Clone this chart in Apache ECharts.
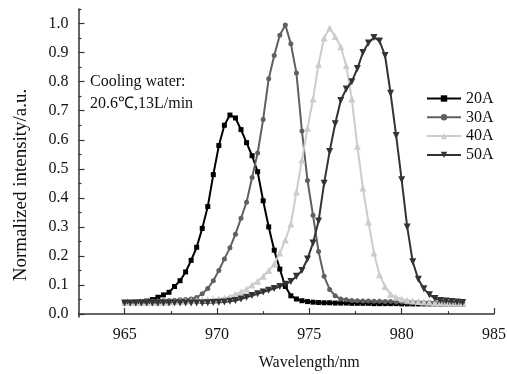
<!DOCTYPE html>
<html>
<head>
<meta charset="utf-8">
<script src="https://cdn.jsdelivr.net/npm/echarts@6/dist/echarts.min.js"></script>
<style>
  html, body { margin: 0; padding: 0; background: #fff; }
  #chart { width: 507px; height: 374px; }
</style>
</head>
<body>
<div id="chart"></div>
<script>
// wavelength samples (nm), shared by all four spectra
const wavelengths = [
  965.0, 965.3, 965.6, 965.9, 966.2, 966.5, 966.8, 967.1, 967.4, 967.7,
  968.0, 968.3, 968.6, 968.9, 969.2, 969.5, 969.8, 970.1, 970.4, 970.7,
  971.0, 971.3, 971.6, 971.9, 972.2, 972.5, 972.8, 973.1, 973.4, 973.7,
  974.0, 974.3, 974.6, 974.9, 975.2, 975.5, 975.8, 976.1, 976.4, 976.7,
  977.0, 977.3, 977.6, 977.9, 978.2, 978.5, 978.8, 979.1, 979.4, 979.7,
  980.0, 980.3, 980.6, 980.9, 981.2, 981.5, 981.8, 982.1, 982.4, 982.7,
  983.0, 983.3
];

const intensity20A = [
  0.040, 0.040, 0.041, 0.042, 0.045, 0.050, 0.058, 0.066, 0.075, 0.095,
  0.115, 0.145, 0.185, 0.230, 0.295, 0.370, 0.480, 0.580, 0.650, 0.685,
  0.675, 0.635, 0.590, 0.545, 0.490, 0.390, 0.300, 0.220, 0.155, 0.095,
  0.063, 0.052, 0.046, 0.043, 0.041, 0.040, 0.039, 0.039, 0.038, 0.038,
  0.038, 0.037, 0.037, 0.037, 0.037, 0.036, 0.036, 0.036, 0.036, 0.036,
  0.035, 0.035, 0.035, 0.035, 0.035, 0.035, 0.035, 0.035, 0.035, 0.035,
  0.035, 0.035
];

const intensity30A = [
  0.040, 0.040, 0.041, 0.042, 0.043, 0.044, 0.045, 0.046, 0.047, 0.048,
  0.049, 0.050, 0.052, 0.057, 0.070, 0.088, 0.115, 0.150, 0.190, 0.228,
  0.275, 0.330, 0.385, 0.470, 0.554, 0.670, 0.810, 0.890, 0.960, 0.995,
  0.930, 0.830, 0.630, 0.460, 0.340, 0.215, 0.130, 0.085, 0.063, 0.052,
  0.049, 0.047, 0.046, 0.045, 0.045, 0.044, 0.044, 0.043, 0.043, 0.042,
  0.042, 0.041, 0.041, 0.040, 0.040, 0.040, 0.039, 0.039, 0.039, 0.038,
  0.038, 0.038
];

const intensity40A = [
  0.040, 0.040, 0.040, 0.040, 0.040, 0.040, 0.040, 0.041, 0.042, 0.043,
  0.044, 0.045, 0.046, 0.048, 0.049, 0.050, 0.051, 0.053, 0.055, 0.060,
  0.068, 0.076, 0.086, 0.100, 0.113, 0.130, 0.150, 0.172, 0.210, 0.255,
  0.310, 0.420, 0.530, 0.640, 0.740, 0.860, 0.950, 0.985, 0.955, 0.920,
  0.855, 0.740, 0.578, 0.434, 0.317, 0.210, 0.135, 0.095, 0.068, 0.058,
  0.052, 0.048, 0.045, 0.043, 0.042, 0.041, 0.040, 0.040, 0.039, 0.039,
  0.038, 0.038
];

const intensity50A = [
  0.038, 0.038, 0.038, 0.038, 0.038, 0.038, 0.038, 0.038, 0.038, 0.038,
  0.038, 0.038, 0.038, 0.038, 0.038, 0.039, 0.040, 0.041, 0.042, 0.044,
  0.047, 0.052, 0.058, 0.064, 0.070, 0.076, 0.082, 0.088, 0.095, 0.103,
  0.112, 0.130, 0.150, 0.190, 0.245, 0.320, 0.450, 0.560, 0.655, 0.735,
  0.775, 0.800, 0.845, 0.900, 0.933, 0.952, 0.940, 0.890, 0.760, 0.615,
  0.462, 0.300, 0.180, 0.120, 0.087, 0.067, 0.054, 0.047, 0.045, 0.043,
  0.042, 0.040
];

const seriesNames = ['20A', '30A', '40A', '50A'];
const xMajorTicks = [965, 970, 975, 980, 985];
const xMinorTicks = [967.5, 972.5, 977.5, 982.5];
const yMajorTicks = [0, 0.1, 0.2, 0.3, 0.4, 0.5, 0.6, 0.7, 0.8, 0.9, 1.0];
const yMinorTicks = [0.05, 0.15, 0.25, 0.35, 0.45, 0.55, 0.65, 0.75, 0.85, 0.95, 1.05];

const font = 'Liberation Serif';
const axisColor = '#333';

function pairs(values) {
  return wavelengths.map((w, i) => [w, values[i]]);
}

const gridBox = { left: 78.5, right: 13, top: 9, bottom: 57, outerBoundsMode: 'none' };

const chart = echarts.init(document.getElementById('chart'));
chart.setOption({
  animation: false,
  textStyle: { fontFamily: font },
  grid: [
    { ...gridBox },
    { ...gridBox },
  ],
  legend: {
    orient: 'vertical',
    left: 426,
    top: 90.5,
    padding: 0,
    itemWidth: 34,
    itemHeight: 8,
    itemGap: 2.8,
    data: seriesNames,
    textStyle: { fontFamily: font, fontSize: 16, color: '#111', lineHeight: 16 },
  },
  xAxis: [
    {
      type: 'value',
      gridIndex: 0,
      min: 962.5,
      max: 985,
      name: 'Wavelength/nm',
      nameLocation: 'middle',
      nameGap: 38,
      nameTextStyle: { fontFamily: font, fontSize: 16, color: '#111', padding: [0, 0, 0, 46] },
      axisLine: { lineStyle: { color: axisColor, width: 1.5 } },
      axisTick: { inside: true, length: 6, customValues: xMajorTicks, lineStyle: { color: axisColor, width: 1.2 } },
      axisLabel: { customValues: xMajorTicks, margin: 10, fontFamily: font, fontSize: 16, color: '#111' },
      splitLine: { show: false },
    },
    {
      type: 'value',
      gridIndex: 1,
      min: 962.5,
      max: 985,
      axisLine: { show: false },
      axisTick: { inside: true, length: 3, customValues: xMinorTicks, lineStyle: { color: axisColor, width: 1.2 } },
      axisLabel: { show: false },
      splitLine: { show: false },
    },
  ],
  yAxis: [
    {
      type: 'value',
      gridIndex: 0,
      min: -0.01,
      max: 1.05,
      name: 'Normalized intensity/a.u.',
      nameLocation: 'middle',
      nameGap: 48,
      nameRotate: 90,
      nameTextStyle: { fontFamily: font, fontSize: 19, color: '#111', padding: [0, 44, 0, 0] },
      axisLine: { lineStyle: { color: axisColor, width: 1.5 } },
      axisTick: { inside: true, length: 6, customValues: yMajorTicks, lineStyle: { color: axisColor, width: 1.2 } },
      axisLabel: {
        customValues: yMajorTicks,
        margin: 10,
        fontFamily: font,
        fontSize: 16,
        color: '#111',
        formatter: (v) => v.toFixed(1),
      },
      splitLine: { show: false },
    },
    {
      type: 'value',
      gridIndex: 1,
      min: -0.01,
      max: 1.05,
      axisLine: { show: false },
      axisTick: { inside: true, length: 3, customValues: yMinorTicks, lineStyle: { color: axisColor, width: 1.2 } },
      axisLabel: { show: false },
      splitLine: { show: false },
    },
  ],
  graphic: [
    {
      type: 'text',
      left: 90,
      top: 74,
      style: { text: 'Cooling water:', fontFamily: font, fontSize: 16, fill: '#111' },
    },
    {
      type: 'text',
      left: 90,
      top: 96,
      style: { text: '20.6℃,13L/min', fontFamily: font, fontSize: 16, fill: '#111' },
    },
  ],
  series: [
    {
      name: '20A',
      type: 'line',
      data: pairs(intensity20A),
      symbol: 'rect',
      symbolSize: 5,
      itemStyle: { color: '#000' },
      lineStyle: { color: '#000', width: 2 },
    },
    {
      name: '30A',
      type: 'line',
      data: pairs(intensity30A),
      symbol: 'circle',
      symbolSize: 5,
      itemStyle: { color: '#606060' },
      lineStyle: { color: '#606060', width: 2 },
    },
    {
      name: '40A',
      type: 'line',
      data: pairs(intensity40A),
      symbol: 'triangle',
      symbolSize: 7,
      itemStyle: { color: '#ccc' },
      lineStyle: { color: '#ccc', width: 2 },
    },
    {
      name: '50A',
      type: 'line',
      data: pairs(intensity50A),
      symbol: 'triangle',
      symbolRotate: 180,
      symbolSize: 7,
      itemStyle: { color: '#333' },
      lineStyle: { color: '#333', width: 2 },
    },
  ],
});
</script>
</body>
</html>
